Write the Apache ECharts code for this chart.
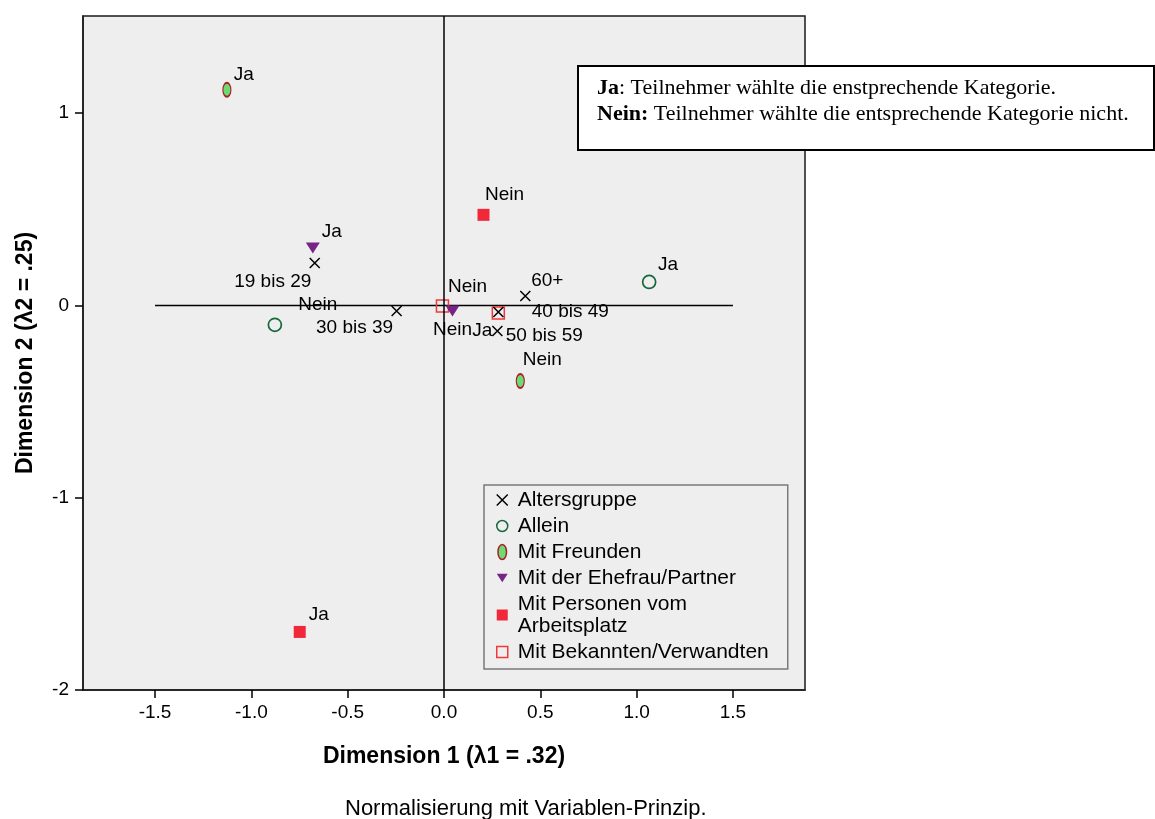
<!DOCTYPE html>
<html>
<head>
<meta charset="utf-8">
<title>Korrespondenzanalyse</title>
<script src="https://cdn.jsdelivr.net/npm/echarts@6/dist/echarts.min.js"></script>
<style>
  html, body { margin: 0; padding: 0; background: #ffffff; }
  #chart { width: 1155px; height: 819px; }
</style>
</head>
<body>
<div id="chart"></div>
<script>
// ---- Data: category points in the two dimensions ----
const answerLabels = ['Ja', 'Nein'];

const ageGroups = ['19 bis 29', '30 bis 39', '40 bis 49', '50 bis 59', '60+'];
const ageDim1 = [-0.671, -0.246, 0.282, 0.277, 0.422];
const ageDim2 = [0.221, -0.029, -0.034, -0.133, 0.049];

const alleinDim1 = [1.065, -0.878];
const alleinDim2 = [0.122, -0.101];

const freundeDim1 = [-1.127, 0.396];
const freundeDim2 = [1.121, -0.393];

const ehefrauDim1 = [-0.681, 0.044];
const ehefrauDim2 = [0.299, -0.029];

const arbeitDim1 = [-0.749, 0.205];
const arbeitDim2 = [-1.698, 0.471];

const bekannteDim1 = [0.282, -0.008];
const bekannteDim2 = [-0.039, -0.003];

const seriesNames = [
  'Altersgruppe',
  'Allein',
  'Mit Freunden',
  'Mit der Ehefrau/Partner',
  'Mit Personen vom Arbeitsplatz',
  'Mit Bekannten/Verwandten'
];

// axis ticks and the reference cross
const xTicks = [-1.5, -1.0, -0.5, 0.0, 0.5, 1.0, 1.5];
const yTicks = [-2, -1, 0, 1];
const zeroLineX = [-1.5, 1.5];

// ---- Layout: label offsets (px) from each point ----
const labelOffsets = [
  [[-42, 19], [-42, 17], [72, 0], [47, 5], [22, -15]],
  [[19, -17], [43, -20]],
  [[17, -15], [22, -21]],
  [[19, -16], [0, 19]],
  [[19, -17], [21, -20]],
  [[-16, 18], [25, -19]]
];

const SANS = '"Liberation Sans", Arial, Helvetica, sans-serif';
const SERIF = '"Liberation Serif", "Times New Roman", serif';

function points(labels, xs, ys, offsets) {
  return labels.map((lab, i) => ({
    name: lab,
    value: [xs[i], ys[i]],
    label: { offset: offsets[i] }
  }));
}

const pointLabel = {
  show: true,
  position: 'inside',
  formatter: p => p.name,
  color: '#000',
  opacity: 1,
  fontFamily: SANS,
  fontSize: 19
};

// marker shapes
const CROSS = 'path://M0,0L10,10M10,0L0,10';
const ELLIPSE = 'path://M4,0C6.21,0,8,3.13,8,7C8,10.87,6.21,14,4,14C1.79,14,0,10.87,0,7C0,3.13,1.79,0,4,0Z';
const TRI_DOWN = 'path://M0,0L14,0L7,11Z';
const SQUARE = 'path://M0,0L12,0L12,12L0,12Z';

const chart = echarts.init(document.getElementById('chart'), null, { renderer: 'canvas' });

const option = {
  backgroundColor: '#ffffff',
  animation: false,
  grid: {
    left: 83, top: 16, width: 722, height: 674,
    show: true,
    backgroundColor: '#eeeeee',
    borderColor: '#1a1a1a',
    borderWidth: 1.5
  },
  xAxis: {
    type: 'value',
    min: -1.874, max: 1.874,
    name: 'Dimension 1 (λ1 = .32)',
    nameLocation: 'middle',
    nameGap: 55,
    nameTextStyle: { fontFamily: SANS, fontSize: 23, fontWeight: 'bold', color: '#000' },
    axisLine: { show: true, onZero: false, lineStyle: { color: '#1a1a1a', width: 1.5 } },
    axisTick: { show: true, length: 8, customValues: xTicks, lineStyle: { color: '#000', width: 1.5 } },
    axisLabel: {
      customValues: xTicks,
      formatter: v => v.toFixed(1),
      margin: 13,
      fontFamily: SANS, fontSize: 19, color: '#000'
    },
    splitLine: { show: false }
  },
  yAxis: {
    type: 'value',
    min: -2, max: 1.505,
    name: 'Dimension 2 (λ2 = .25)',
    nameLocation: 'middle',
    nameGap: 46,
    nameTextStyle: { fontFamily: SANS, fontSize: 23, fontWeight: 'bold', color: '#000' },
    axisLine: { show: true, onZero: false, lineStyle: { color: '#1a1a1a', width: 1.5 } },
    axisTick: { show: true, length: 8, customValues: yTicks, lineStyle: { color: '#000', width: 1.5 } },
    axisLabel: {
      customValues: yTicks,
      formatter: v => String(v),
      margin: 14,
      fontFamily: SANS, fontSize: 19, color: '#000'
    },
    splitLine: { show: false }
  },
  legend: {
    data: seriesNames,
    orient: 'vertical',
    left: 484, top: 485,
    padding: [4, 19, 6, 12],
    itemWidth: 11, itemHeight: 15,
    itemGap: 4,
    symbolKeepAspect: true,
    selectedMode: false,
    backgroundColor: '#eeeeee',
    borderColor: '#7a7a7a',
    borderWidth: 1.5,
    borderRadius: 0,
    itemStyle: { borderWidth: 1.5, opacity: 1 },
    formatter: n => n === 'Mit Personen vom Arbeitsplatz' ? 'Mit Personen vom\nArbeitsplatz' : n,
    textStyle: { fontFamily: SANS, fontSize: 21, lineHeight: 22, color: '#000', padding: [0, 0, 0, 5] }
  },
  graphic: [
    {
      type: 'rect', left: 577, top: 65, z: 100,
      shape: { width: 576, height: 84 },
      style: { fill: '#ffffff', stroke: '#000', lineWidth: 2 }
    },
    {
      type: 'text', left: 597, top: 77, z: 101,
      style: {
        text: '{b|Ja}{r|: Teilnehmer wählte die enstprechende Kategorie.}\n{b|Nein:}{r| Teilnehmer wählte die entsprechende Kategorie nicht.}',
        fill: '#000',
        rich: {
          b: { fontFamily: SERIF, fontSize: 22, fontWeight: 'bold', lineHeight: 26, fill: '#000' },
          r: { fontFamily: SERIF, fontSize: 22, lineHeight: 26, fill: '#000' }
        }
      }
    },
    {
      type: 'text', left: 345, top: 798,
      style: {
        text: 'Normalisierung mit Variablen-Prinzip.',
        fontFamily: SANS, fontSize: 22, fill: '#000'
      }
    }
  ],
  series: [
    {
      name: 'Referenz',
      type: 'line',
      data: zeroLineX.map(x => [x, 0]),
      symbol: 'none',
      silent: true,
      z: 1,
      lineStyle: { color: '#000', width: 1.5 },
      markLine: {
        silent: true,
        symbol: 'none',
        label: { show: false },
        lineStyle: { color: '#000', width: 1.5, type: 'solid' },
        data: [{ xAxis: 0 }]
      }
    },
    {
      name: seriesNames[0], type: 'scatter', z: 3,
      symbol: CROSS, symbolSize: 10,
      itemStyle: { color: 'rgba(0,0,0,0)', borderColor: '#000', borderWidth: 1.5, opacity: 1 },
      label: pointLabel,
      data: points(ageGroups, ageDim1, ageDim2, labelOffsets[0])
    },
    {
      name: seriesNames[1], type: 'scatter', z: 3,
      symbol: 'circle', symbolSize: 13,
      itemStyle: { color: 'rgba(0,0,0,0)', borderColor: '#16683a', borderWidth: 1.7, opacity: 1 },
      label: pointLabel,
      data: points(answerLabels, alleinDim1, alleinDim2, labelOffsets[1])
    },
    {
      name: seriesNames[2], type: 'scatter', z: 3,
      symbol: ELLIPSE, symbolSize: [8, 14], symbolKeepAspect: false,
      itemStyle: { color: '#6bdc74', borderColor: '#ad1f26', borderWidth: 1.5, opacity: 1 },
      label: pointLabel,
      data: points(answerLabels, freundeDim1, freundeDim2, labelOffsets[2])
    },
    {
      name: seriesNames[3], type: 'scatter', z: 3,
      symbol: TRI_DOWN, symbolSize: [14, 11], symbolKeepAspect: false,
      itemStyle: { color: '#772585', opacity: 1 },
      label: pointLabel,
      data: points(answerLabels, ehefrauDim1, ehefrauDim2, labelOffsets[3])
    },
    {
      name: seriesNames[4], type: 'scatter', z: 3,
      symbol: SQUARE, symbolSize: 12,
      itemStyle: { color: '#f0283a', opacity: 1 },
      label: pointLabel,
      data: points(answerLabels, arbeitDim1, arbeitDim2, labelOffsets[4])
    },
    {
      name: seriesNames[5], type: 'scatter', z: 2,
      symbol: SQUARE, symbolSize: 12,
      itemStyle: { color: 'rgba(0,0,0,0)', borderColor: '#ee3a3a', borderWidth: 1.5, opacity: 1 },
      label: pointLabel,
      data: points(answerLabels, bekannteDim1, bekannteDim2, labelOffsets[5])
    }
  ]
};

chart.setOption(option);
</script>
</body>
</html>
